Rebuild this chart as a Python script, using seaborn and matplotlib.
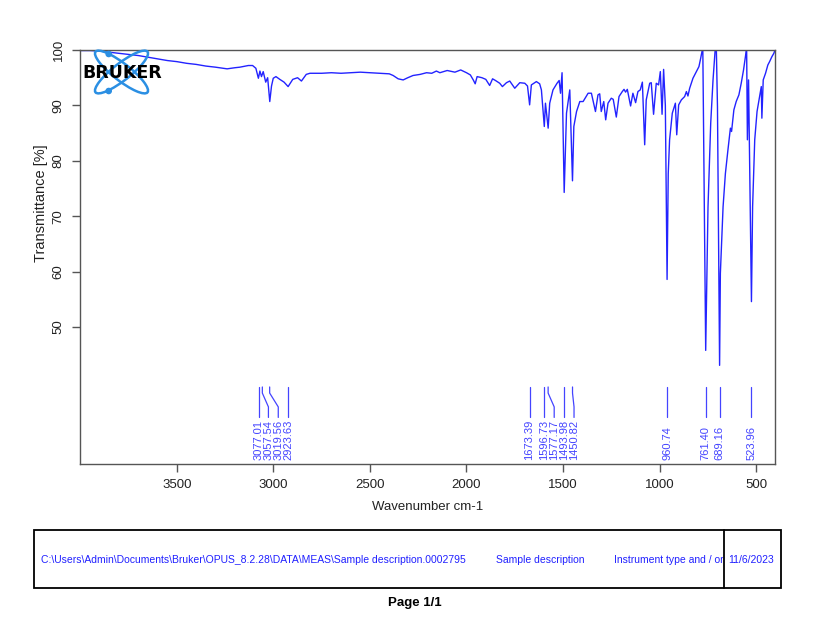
import matplotlib
matplotlib.use("Agg")
import matplotlib.pyplot as plt
import seaborn as sns
import pandas as pd
from matplotlib.patches import Ellipse, Rectangle, Circle
from matplotlib.transforms import Bbox, TransformedBbox

# ---------------- data ----------------
wavenumber = [
    4000, 3950, 3900, 3850, 3800, 3750, 3700, 3650, 3600, 3550, 3500, 3450, 3400, 3350,
    3300, 3240, 3200, 3174, 3130, 3108, 3091, 3078, 3070, 3062, 3053, 3040, 3030, 3019,
    3010, 3001, 2987, 2967, 2945, 2924, 2900, 2875, 2855, 2830, 2811, 2750, 2700, 2650,
    2600, 2550, 2500, 2450, 2400, 2380, 2354, 2328, 2304, 2277, 2240, 2207, 2180, 2156,
    2138, 2100, 2060, 2030, 2000, 1980, 1965, 1955, 1945, 1920, 1900, 1880, 1865, 1850,
    1828, 1814, 1793, 1776, 1750, 1724, 1698, 1684, 1673, 1664, 1638, 1621, 1612, 1597,
    1591, 1577, 1569, 1552, 1531, 1520, 1513, 1505, 1494, 1482, 1465, 1451, 1444, 1430,
    1413, 1396, 1370, 1353, 1332, 1319, 1310, 1302, 1289, 1279, 1267, 1250, 1240, 1224,
    1210, 1193, 1184, 1176, 1167, 1150, 1138, 1124, 1112, 1100, 1089, 1077, 1069, 1051,
    1043, 1031, 1017, 1005, 996, 987, 979, 970, 961, 955, 948, 934, 918, 911, 901, 887,
    870, 861, 853, 844, 827, 809, 796, 787, 776, 761, 749, 735, 723, 711, 706, 700, 689,
    685, 671, 659, 646, 633, 627, 615, 603, 589, 577, 565, 554, 549, 545, 539, 524, 518,
    507, 495, 482, 473, 470, 463, 451, 439, 430, 418, 408, 402,
]
transmittance = [
    99.9, 99.9, 99.8, 99.6, 99.4, 99.2, 99.0, 98.7, 98.4, 98.1, 97.9, 97.6, 97.4, 97.1,
    96.9, 96.6, 96.8, 96.9, 97.2, 97.2, 96.7, 94.9, 96.2, 95.2, 96.1, 94.2, 95.0, 90.7,
    93.5, 94.9, 95.2, 94.7, 94.2, 93.4, 94.7, 95.0, 94.4, 95.6, 95.8, 95.8, 95.9, 95.8,
    95.9, 96.0, 95.9, 95.8, 95.7, 95.4, 94.8, 94.6, 95.0, 95.4, 95.6, 95.9, 95.8, 96.2,
    95.9, 96.3, 96.0, 96.4, 95.9, 95.5, 94.6, 93.9, 95.2, 95.0, 94.7, 93.6, 94.8, 94.5,
    94.0, 93.4, 94.1, 94.4, 93.1, 94.1, 94.0, 93.5, 90.1, 93.7, 94.3, 93.9, 92.8, 86.2,
    90.4, 85.9, 90.4, 92.8, 94.0, 94.5, 92.2, 95.9, 74.3, 88.6, 92.8, 76.4, 86.2, 88.9,
    90.7, 90.7, 92.2, 92.2, 88.9, 91.9, 92.1, 88.9, 90.7, 87.4, 90.4, 91.3, 91.1, 87.9,
    91.6, 92.5, 92.9, 92.4, 92.9, 89.9, 92.2, 90.5, 92.5, 92.8, 94.2, 82.9, 91.0, 94.0,
    94.1, 88.4, 94.0, 93.7, 96.1, 88.4, 96.5, 90.0, 58.6, 77.7, 83.8, 88.6, 90.4, 84.7,
    90.1, 91.0, 91.6, 92.5, 91.7, 93.1, 94.9, 96.1, 97.0, 98.5, 100.5, 45.8, 71.7, 86.8,
    94.6, 100.5, 100.5, 89.8, 43.1, 59.7, 71.7, 77.7, 81.9, 85.9, 85.3, 89.2, 90.7, 91.9,
    94.0, 96.4, 99.1, 100.5, 83.8, 94.6, 54.6, 71.7, 83.8, 88.9, 91.6, 93.4, 87.7, 94.6,
    95.8, 97.3, 97.9, 98.8, 99.4, 100.0,
]
peak_positions = [3077.01, 3057.54, 3019.56, 2923.63, 1673.39, 1596.73, 1577.17,
                  1493.98, 1450.82, 960.74, 761.40, 689.16, 523.96]
x_ticks = [3500, 3000, 2500, 2000, 1500, 1000, 500]
y_ticks = [50, 60, 70, 80, 90, 100]
x_label = "Wavenumber cm-1"
y_label = "Transmittance [%]"
footer_path = r"C:\Users\Admin\Documents\Bruker\OPUS_8.2.28\DATA\MEAS\Sample description.0002795"
footer_sample = "Sample description"
footer_instrument = "Instrument type and / or"
footer_date = "11/6/2023"
page_label = "Page 1/1"
logo_text = "BRUKER"

# ---------------- style ----------------
sns.set_style("ticks")
plt.rcParams["font.family"] = ["Liberation Sans", "DejaVu Sans"]
LINE = "#2323ff"
LABEL = "#4444ff"
SPINE = "#555555"

fig = plt.figure(figsize=(8.31, 6.40), dpi=100)
W, H = 831, 640
ax = fig.add_axes([80 / W, 1 - 464 / H, (775 - 80) / W, (464 - 50) / H])

df = pd.DataFrame({"wn": wavenumber, "T": transmittance})
sns.lineplot(data=df, x="wn", y="T", sort=False, estimator=None,
             color=LINE, linewidth=1.0, ax=ax)

ax.set_xlim(4002, 402)
ax.set_ylim(25.3, 100)
ax.set_xticks(x_ticks)
ax.set_yticks(y_ticks)
ax.set_yticklabels([str(v) for v in y_ticks], rotation=90, va="center")
ax.tick_params(direction="out", length=6, width=1, color=SPINE,
               labelsize=9.5, labelcolor="#222222", pad=5)
for s in ax.spines.values():
    s.set_color(SPINE)
    s.set_linewidth(1.0)
    s.set_visible(True)
ax.set_xlabel(x_label, fontsize=9.5, color="#222222", labelpad=7)
ax.set_ylabel(y_label, fontsize=10.5, color="#222222")
ax.yaxis.set_label_coords(-0.046, 0.63)

# peak annotations: spread label positions so they do not overlap
label_pos = []
prev = None
for p in peak_positions:
    lx = p if prev is None else min(p, prev - 51)
    label_pos.append(lx)
    prev = lx
for p, lx in zip(peak_positions, label_pos):
    ax.plot([p, p, lx, lx], [39.2, 38.1, 35.6, 33.7], color=LABEL, lw=0.9)
    ax.text(lx, 26.1, f"{p:.2f}", rotation=90, ha="center", va="bottom",
            fontsize=8, color=LABEL)

# ---------------- overlay (logo + footer) in pixel coords ----------------
ov = fig.add_axes([0, 0, 1, 1], zorder=10)
ov.set_xlim(0, W)
ov.set_ylim(H, 0)
ov.axis("off")
ov.patch.set_alpha(0)

LOGO = "#2b8fe3"
ov.add_patch(Ellipse((121.5, 72), 66, 17, angle=38, fill=False, ec=LOGO, lw=1.8))
ov.add_patch(Ellipse((121.5, 72), 66, 17, angle=-38, fill=False, ec=LOGO, lw=1.8))
ov.add_patch(Circle((108.7, 54), 2.6, color=LOGO))
ov.add_patch(Circle((108.7, 91), 2.6, color=LOGO))
ov.text(122, 72.5, logo_text, ha="center", va="center", fontsize=12.5,
        fontweight="bold", color="black", family="DejaVu Sans")

ov.add_patch(Rectangle((34, 530), 747, 58, fill=False, ec="black", lw=1.3))
ov.plot([723.5, 723.5], [530, 588], color="black", lw=1.3)
ty = 560
FOOT = "#2020ff"
ov.text(41, ty, footer_path, ha="left", va="center", fontsize=7.5, color=FOOT)
ov.text(496, ty, footer_sample, ha="left", va="center", fontsize=7.5, color=FOOT)
t_inst = ov.text(614, ty, footer_instrument, ha="left", va="center",
                 fontsize=7.5, color=FOOT)
t_inst.set_clip_on(True)
t_inst.set_clip_box(TransformedBbox(Bbox.from_extents(600 / W, 0.0, 722.5 / W, 1.0),
                                    fig.transFigure))
ov.text(728.5, ty, footer_date, ha="left", va="center", fontsize=7.5, color=FOOT)
ov.text(415, 603, page_label, ha="center", va="center", fontsize=9.5,
        fontweight="bold", color="black")

fig.savefig("out.png", dpi=100, facecolor="white")
